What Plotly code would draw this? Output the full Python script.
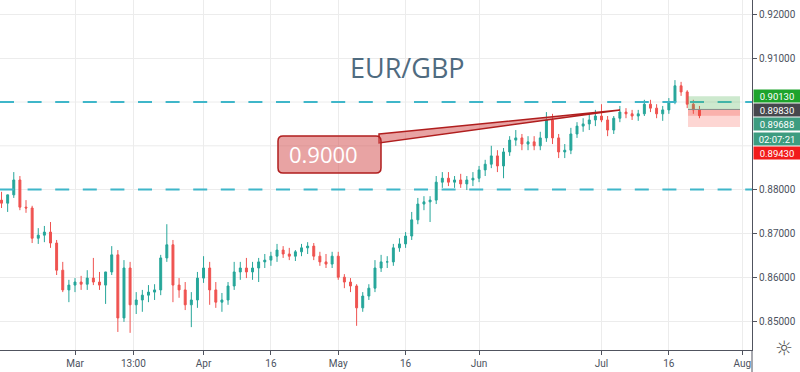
import pandas as pd
import plotly.graph_objects as go

# ---- data (EUR/GBP, daily) ----
dates = pd.bdate_range("2019-02-13", "2019-07-23")

open_ = [0.8776,0.8769,0.8788,0.8822,0.8760,0.8758,0.8689,0.8696,0.8703,0.8678,
         0.8616,0.8571,0.8582,0.8589,0.8584,0.8598,0.8589,0.8582,0.8612,0.8651,
         0.8507,0.8621,0.8537,0.8548,0.8559,0.8566,0.8571,0.8644,0.8674,0.8582,
         0.8571,0.8537,0.8548,0.8598,0.8621,0.8571,0.8543,0.8548,0.8580,0.8612,
         0.8621,0.8612,0.8621,0.8635,0.8639,0.8648,0.8662,0.8653,0.8648,0.8658,
         0.8667,0.8671,0.8648,0.8635,0.8630,0.8648,0.8600,0.8589,0.8580,0.8530,
         0.8557,0.8575,0.8621,0.8635,0.8635,0.8667,0.8676,0.8694,0.8731,0.8767,
         0.8772,0.8776,0.8817,0.8826,0.8817,0.8822,0.8813,0.8822,0.8826,0.8845,
         0.8858,0.8877,0.8854,0.8886,0.8913,0.8918,0.8904,0.8909,0.8900,0.8918,
         0.8959,0.8918,0.8886,0.8890,0.8927,0.8945,0.8950,0.8959,0.8968,0.8959,
         0.8936,0.8963,0.8977,0.8973,0.8968,0.8973,0.8995,0.8986,0.8973,0.8982,
         0.9000,0.9037,0.9023,0.8995,0.8982]
high = [0.8795,0.8781,0.8840,0.8831,0.8776,0.8763,0.8712,0.8717,0.8726,0.8685,
        0.8635,0.8594,0.8598,0.8603,0.8616,0.8644,0.8612,0.8605,0.8671,0.8662,
        0.8639,0.8635,0.8566,0.8571,0.8582,0.8584,0.8651,0.8721,0.8685,0.8598,
        0.8589,0.8566,0.8612,0.8648,0.8635,0.8589,0.8564,0.8589,0.8635,0.8635,
        0.8644,0.8635,0.8644,0.8653,0.8658,0.8676,0.8671,0.8667,0.8662,0.8676,
        0.8680,0.8678,0.8658,0.8653,0.8658,0.8658,0.8607,0.8598,0.8584,0.8566,
        0.8584,0.8639,0.8651,0.8648,0.8676,0.8689,0.8703,0.8749,0.8781,0.8785,
        0.8785,0.8831,0.8840,0.8840,0.8831,0.8836,0.8831,0.8840,0.8854,0.8868,
        0.8900,0.8890,0.8895,0.8922,0.8936,0.8927,0.8922,0.8922,0.8932,0.8977,
        0.8973,0.8927,0.8904,0.8941,0.8954,0.8963,0.8973,0.8982,0.8995,0.8968,
        0.8968,0.8991,0.8986,0.8982,0.8982,0.9005,0.9005,0.8995,0.8991,0.9009,
        0.9050,0.9046,0.9027,0.9005,0.8991]
low = [0.8758,0.8749,0.8781,0.8753,0.8747,0.8678,0.8676,0.8680,0.8667,0.8605,
       0.8566,0.8543,0.8566,0.8571,0.8571,0.8582,0.8571,0.8539,0.8605,0.8475,
       0.8498,0.8473,0.8516,0.8521,0.8543,0.8548,0.8559,0.8635,0.8543,0.8553,
       0.8525,0.8486,0.8530,0.8587,0.8537,0.8530,0.8521,0.8537,0.8571,0.8594,
       0.8598,0.8594,0.8589,0.8621,0.8626,0.8635,0.8644,0.8639,0.8637,0.8648,
       0.8653,0.8639,0.8626,0.8621,0.8621,0.8594,0.8575,0.8566,0.8489,0.8521,
       0.8548,0.8566,0.8612,0.8621,0.8626,0.8658,0.8667,0.8685,0.8721,0.8753,
       0.8726,0.8767,0.8804,0.8808,0.8804,0.8804,0.8799,0.8808,0.8817,0.8831,
       0.8849,0.8840,0.8826,0.8877,0.8900,0.8890,0.8890,0.8890,0.8890,0.8909,
       0.8904,0.8872,0.8872,0.8881,0.8918,0.8932,0.8936,0.8945,0.8954,0.8922,
       0.8927,0.8954,0.8963,0.8959,0.8957,0.8968,0.8977,0.8963,0.8957,0.8973,
       0.8995,0.9014,0.8986,0.8973,0.8963]
close = [0.8769,0.8788,0.8822,0.8760,0.8758,0.8689,0.8696,0.8703,0.8678,0.8616,
         0.8571,0.8582,0.8589,0.8584,0.8598,0.8589,0.8582,0.8612,0.8651,0.8507,
         0.8621,0.8537,0.8548,0.8559,0.8566,0.8571,0.8644,0.8674,0.8582,0.8571,
         0.8537,0.8548,0.8598,0.8621,0.8571,0.8543,0.8548,0.8580,0.8612,0.8621,
         0.8612,0.8621,0.8635,0.8639,0.8648,0.8662,0.8653,0.8648,0.8658,0.8667,
         0.8671,0.8648,0.8635,0.8630,0.8648,0.8600,0.8589,0.8580,0.8530,0.8557,
         0.8575,0.8621,0.8635,0.8635,0.8667,0.8676,0.8694,0.8731,0.8767,0.8772,
         0.8776,0.8817,0.8826,0.8817,0.8822,0.8813,0.8822,0.8826,0.8845,0.8858,
         0.8877,0.8854,0.8886,0.8913,0.8918,0.8904,0.8909,0.8900,0.8918,0.8959,
         0.8918,0.8886,0.8890,0.8927,0.8945,0.8950,0.8959,0.8968,0.8959,0.8936,
         0.8963,0.8977,0.8973,0.8968,0.8973,0.8995,0.8986,0.8973,0.8982,0.9000,
         0.9037,0.9023,0.8995,0.8982,0.89688]

tick_dates = ["2019-03-01", "2019-03-14 13:00", "2019-04-01", "2019-04-16", "2019-05-01",
              "2019-05-16", "2019-06-03", "2019-07-01", "2019-07-16", "2019-08-01"]
tick_labels = ["Mar", "13:00", "Apr", "16", "May", "16", "Jun", "Jul", "16", "Aug"]
price_ticks = [0.85, 0.86, 0.87, 0.88, 0.91, 0.92]   # labelled price levels
hidden_grid = [0.89, 0.90]                            # grid levels whose labels are covered

levels = [0.9000, 0.8800]          # dashed horizontal levels
entry, target, stop = 0.8983, 0.9013, 0.8943
last_price = close[-1]
countdown = "02:07:21"
callout_text = "0.9000"
title = "EUR/GBP"

# ---- styles ----
UP = "#26a69a"
DOWN = "#ef5350"
GRID = "#ececec"
AXIS = "#50535e"
TXT = "#4c525e"
FONT = "Roboto"

fig = go.Figure(go.Candlestick(
    x=dates, open=open_, high=high, low=low, close=close,
    increasing=dict(line=dict(color=UP, width=1), fillcolor=UP),
    decreasing=dict(line=dict(color=DOWN, width=1), fillcolor=DOWN),
    whiskerwidth=0, showlegend=False, hoverinfo="skip"))

PW, PH = 752.0, 350.0
def px(x):  # pixel -> paper x
    return x / PW
def py(y):  # pixel -> paper y
    return 1 - y / PH

shapes = []
for g in hidden_grid:
    shapes.append(dict(type="line", xref="paper", x0=0, x1=1, yref="y", y0=g, y1=g,
                       line=dict(color=GRID, width=1), layer="below"))
for lv in levels:
    shapes.append(dict(type="line", xref="paper", x0=0, x1=1, yref="y", y0=lv, y1=lv,
                       line=dict(color="#3fb6c9", width=2, dash="14px,13.6px"), layer="above"))

# position tool
shapes.append(dict(type="rect", xref="paper", x0=px(688), x1=px(740), yref="y", y0=entry, y1=target,
                   fillcolor="rgba(76,175,80,0.28)", line=dict(width=0), layer="above"))
shapes.append(dict(type="rect", xref="paper", x0=px(688), x1=px(740), yref="y", y0=stop, y1=entry,
                   fillcolor="rgba(244,67,54,0.22)", line=dict(width=0), layer="above"))
shapes.append(dict(type="rect", xref="paper", x0=px(688), x1=px(740), yref="y", y0=last_price, y1=entry,
                   fillcolor="rgba(244,67,54,0.25)", line=dict(width=0), layer="above"))
shapes.append(dict(type="line", xref="paper", x0=px(688), x1=px(740), yref="y", y0=entry, y1=entry,
                   line=dict(color="#8a8a8a", width=1), layer="above"))

# callout wedge + box
CFILL = "rgba(214,88,88,0.55)"
CLINE = "#b01e1e"
wedge = "M {:.4f},{:.4f} L {:.4f},{:.4f} L {:.4f},{:.4f} Z".format(
    px(379), py(134), px(620), py(110), px(379), py(143))
shapes.append(dict(type="path", xref="paper", yref="paper", path=wedge,
                   fillcolor=CFILL, line=dict(color=CLINE, width=1.5), layer="above"))
bx0, bx1, by0, by1 = 278, 381, 136, 173
r = 5
rx, ry = r / PW, r / PH
box = ("M {a},{b} L {c},{b} Q {x1},{b} {x1},{d} L {x1},{e} Q {x1},{y1} {c},{y1} "
       "L {a},{y1} Q {x0},{y1} {x0},{e} L {x0},{d} Q {x0},{b} {a},{b} Z").format(
    a=px(bx0) + rx, c=px(bx1) - rx, b=py(by0), d=py(by0) - ry, e=py(by1) + ry,
    x0=px(bx0), x1=px(bx1), y1=py(by1))
shapes.append(dict(type="path", xref="paper", yref="paper", path=box,
                   fillcolor=CFILL, line=dict(color=CLINE, width=1.5), layer="above"))
# axis line continues through the time scale
shapes.append(dict(type="line", xref="paper", yref="paper", x0=1, x1=1, y0=0, y1=-22 / PH,
                   line=dict(color=AXIS, width=1)))

annotations = [
    dict(text=title, xref="paper", yref="paper", x=px(408), y=py(47), showarrow=False,
         font=dict(family="Open Sans", size=27, color="#4f6b80")),
    dict(text=callout_text, xref="paper", yref="paper", x=px(287), y=py(154), xanchor="left",
         showarrow=False, font=dict(family="Open Sans", size=22, color="white")),
    dict(text="\u263c", xref="paper", yref="paper", x=px(795), y=py(362), showarrow=False,
         font=dict(family="DejaVu Sans", size=20, color="#555")),
]
labels = [(f"{target:.5f}", 96, "#1ea32c"), (f"{entry:.5f}", 110, "#46474d"),
          (f"{last_price:.5f}", 124, "#3d9c80"), (countdown, 138.5, "#3d9c80"),
          (f"{stop:.5f}", 153, "#f21b1b")]
for txt, ypix, col in labels:
    annotations.append(dict(text=txt, xref="paper", yref="paper", x=1, y=py(ypix),
                            xanchor="left", yanchor="middle", xshift=1, showarrow=False,
                            bgcolor=col, width=46, height=12, borderpad=0, align="center",
                            font=dict(family=FONT, size=9.5, color="white")))

fig.update_layout(
    width=800, height=372, margin=dict(l=0, r=48, t=0, b=22),
    paper_bgcolor="white", plot_bgcolor="white", boxgap=0.55,
    shapes=shapes, annotations=annotations, showlegend=False,
    xaxis=dict(type="date", range=["2019-02-12 18:00", "2019-08-02 14:00"],
               rangebreaks=[dict(bounds=["sat", "mon"])],
               rangeslider=dict(visible=False),
               tickvals=tick_dates, ticktext=tick_labels,
               showgrid=True, gridcolor=GRID, gridwidth=1,
               ticks="outside", ticklen=4, tickcolor=AXIS,
               showline=True, linecolor=AXIS, linewidth=1,
               tickfont=dict(family=FONT, size=10, color=TXT), fixedrange=True),
    yaxis=dict(side="right", range=[0.84338, 0.92329], tickvals=price_ticks,
               tickformat=".5f", showgrid=True, gridcolor=GRID, gridwidth=1,
               zeroline=False, ticks="outside", ticklen=4, tickcolor=AXIS,
               showline=True, linecolor=AXIS, linewidth=1,
               tickfont=dict(family=FONT, size=10, color=TXT), fixedrange=True),
)

fig.write_html("out.html", config={"displayModeBar": False},
               post_script="document.body.style.margin='0px';document.body.style.overflow='hidden';")
